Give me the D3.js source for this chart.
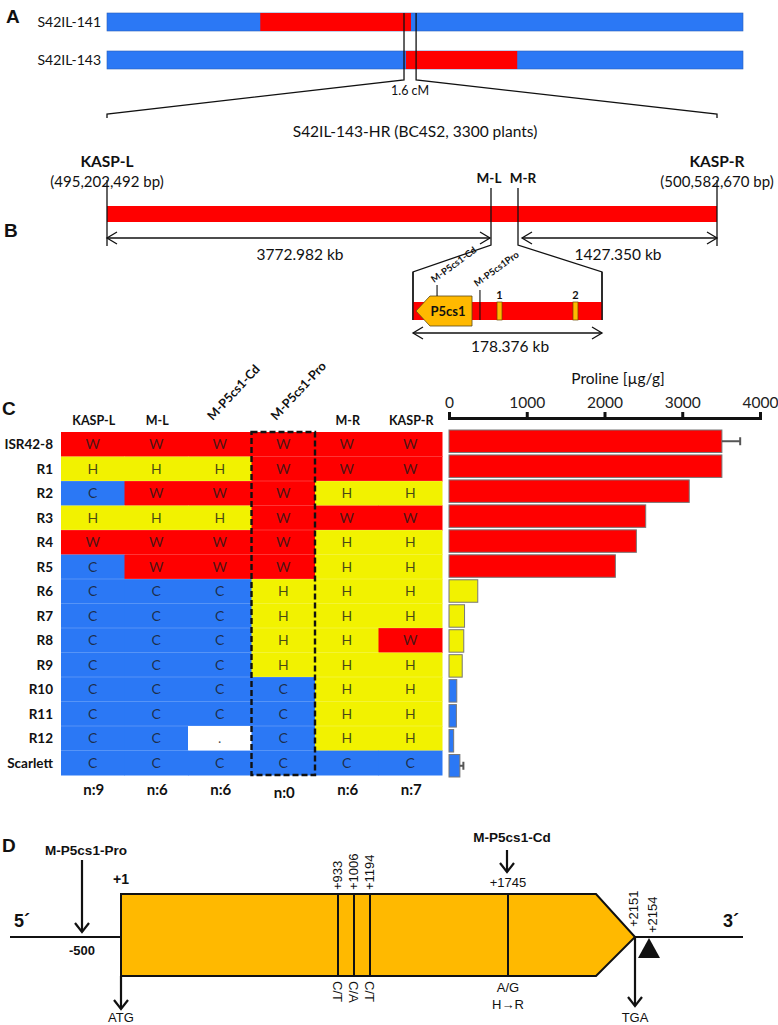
<!DOCTYPE html>
<html><head><meta charset="utf-8">
<script src="https://cdn.jsdelivr.net/npm/d3@7"></script>
<style>body{margin:0;background:#fff} svg{display:block}</style>
</head><body><svg id="c" width="778" height="1025"></svg>
<script>
// ---------------- DATA ----------------
// Panel A
const introLines = ["S42IL-141", "S42IL-143"];
const introStart = [24.1, 47.0];      // % of chromosome segment shown
const introEnd = [47.8, 64.5];
const cmWindow = [46.7, 48.6];
const cmLabel = "1.6 cM";
// Panel B
const popLabel = "S42IL-143-HR (BC4S2, 3300 plants)";
const markersB = ["KASP-L", "M-L", "M-R", "KASP-R"];
const markerBp = [495202492, 498975474, 499155320, 500582670];
const kaspBpLabels = ["(495,202,492 bp)", "(500,582,670 bp)"];
const intervalLabels = ["3772.982 kb", "1427.350 kb"];
const insetKb = 178.376;
const insetLabel = "178.376 kb";
const p5cs1Kb = [2.8, 55.7];
const insetMarkers = ["M-P5cs1-Cd", "M-P5cs1Pro"];
const insetMarkerKb = [22.7, 63.2];
const candNames = ["1", "2"];
const candKb = [[79.3, 84.0], [151.0, 155.7]];
// Panel C
const markersC = ["KASP-L", "M-L", "M-P5cs1-Cd", "M-P5cs1-Pro", "M-R", "KASP-R"];
const plants = ["ISR42-8", "R1", "R2", "R3", "R4", "R5", "R6", "R7", "R8", "R9", "R10", "R11", "R12", "Scarlett"];
const genotypes = ["WWWWWW", "HHHWWW", "CWWWHH", "HHHWWW", "WWWWHH", "CWWWHH",
  "CCCHHH", "CCCHHH", "CCCHHW", "CCCHHH", "CCCCHH", "CCCCHH", "CC.CHH", "CCCCCC"];
const proline = [3510, 3510, 3090, 2530, 2410, 2140, 370, 200, 190, 170, 100, 95, 60, 140];
const prolineErr = [235, 0, 0, 0, 0, 0, 0, 0, 0, 0, 0, 0, 0, 45];
const prolineTicks = [0, 1000, 2000, 3000, 4000];
const nCounts = ["n:9", "n:6", "n:6", "n:0", "n:6", "n:7"];
// Panel D
const snpPos = [933, 1006, 1194, 1745];
const snpAlleles = ["C/T", "C/A", "C/T", "A/G"];
const genePos = { pro: -500, start: 1, stop: 2151, indel: 2154 };

// ---------------- DRAW ----------------
const RED = "#ff0000", BLUE = "#2b78f5", YEL = "#f2f200", ORANGE = "#ffb900";
const CAL = "Lato, 'Open Sans', sans-serif";
const ARI = "'Liberation Sans', Arial, sans-serif";
const svg = d3.select("#c");
const genoColor = { W: RED, H: YEL, C: BLUE, ".": "#ffffff" };

function text(g, x, y, s, o = {}) {
  return g.append("text").attr("x", x).attr("y", y).text(s)
    .attr("font-family", o.ff || CAL).attr("font-size", o.fs || 13)
    .attr("font-weight", o.fw || "normal").attr("text-anchor", o.ta || "middle")
    .attr("fill", o.fill || "#111");
}
function line(g, pts, w = 1.3, c = "#111") {
  return g.append("path").attr("d", d3.line()(pts)).attr("fill", "none")
    .attr("stroke", c).attr("stroke-width", w);
}
function dblArrow(g, x1, x2, y) {
  line(g, [[x1, y], [x2, y]], 1.3);
  line(g, [[x1 + 10, y - 6], [x1, y], [x1 + 10, y + 6]], 1.3);
  line(g, [[x2 - 10, y - 6], [x2, y], [x2 - 10, y + 6]], 1.3);
}
function downArrow(g, x, y1, y2) {
  line(g, [[x, y1], [x, y2]], 2.2);
  line(g, [[x - 7, y2 - 9], [x, y2], [x + 7, y2 - 9]], 2.2);
}

// Panel labels
[["A", 6, 23], ["B", 4, 237], ["C", 2, 415], ["D", 2, 852]].forEach(([t, x, y]) =>
  text(svg, x, y, t, { ff: ARI, fs: 19, fw: "bold", ta: "start" }));

// ---- Panel A
const gA = svg.append("g");
const xA = d3.scaleLinear().domain([0, 100]).range([107, 743]);
const yA = d3.scalePoint().domain(introLines).range([22, 60]);
introLines.forEach((n, i) => {
  const y = yA(n);
  gA.append("rect").attr("x", xA(0)).attr("y", y - 9).attr("width", xA(100) - xA(0)).attr("height", 18)
    .attr("fill", BLUE).attr("stroke", "#2a5fb8").attr("stroke-width", 0.6);
  gA.append("rect").attr("x", xA(introStart[i])).attr("y", y - 9)
    .attr("width", xA(introEnd[i]) - xA(introStart[i])).attr("height", 18).attr("fill", RED);
  text(gA, 101, y + 5, n, { ta: "end", fs: 14 });
});
// ---- Panel B scale
const xB = d3.scaleLinear().domain(markerBp).range([107, 491, 518, 717]);
line(gA, [[xA(cmWindow[0]), 13], [xA(cmWindow[0]), 80], [xB(markerBp[0]), 114], [xB(markerBp[0]), 118]], 1.3);
line(gA, [[xA(cmWindow[1]), 13], [xA(cmWindow[1]), 80], [xB(markerBp[3]), 114], [xB(markerBp[3]), 118]], 1.3);
text(gA, (xA(cmWindow[0]) + xA(cmWindow[1])) / 2, 95, cmLabel, { fs: 12.5 });

const gB = svg.append("g");
text(gB, 415, 137, popLabel, { fs: 15.5 });
gB.append("rect").attr("x", xB(markerBp[0])).attr("y", 206).attr("width", xB(markerBp[3]) - xB(markerBp[0]))
  .attr("height", 16).attr("fill", RED);
[0, 3].forEach((k, j) => {
  const x = xB(markerBp[k]);
  text(gB, x, 167, markersB[k], { fs: 15.5, fw: "bold" });
  line(gB, [[x, 180], [x, 246]], 1.3);
  text(gB, x, 187, kaspBpLabels[j], { fs: 15 });
});
[1, 2].forEach(k => {
  const x = xB(markerBp[k]);
  text(gB, x + (k === 1 ? -2 : 5), 183, markersB[k], { fs: 13.5, fw: "bold" });
});
dblArrow(gB, xB(markerBp[0]), xB(markerBp[1]) - 1, 238);
dblArrow(gB, xB(markerBp[2]) + 4, xB(markerBp[3]), 238);
text(gB, 300, 260, intervalLabels[0], { fs: 15.5 });
text(gB, 618, 260, intervalLabels[1], { fs: 15.5 });

// inset
const xI = d3.scaleLinear().domain([0, insetKb]).range([413, 602]);
line(gB, [[xB(markerBp[1]), 188], [xB(markerBp[1]), 245], [xI(0), 272], [xI(0), 320]], 1.3);
line(gB, [[xB(markerBp[2]), 188], [xB(markerBp[2]), 245], [xI(insetKb), 272], [xI(insetKb), 320]], 1.3);
gB.append("rect").attr("x", xI(0)).attr("y", 302).attr("width", xI(insetKb) - xI(0)).attr("height", 18).attr("fill", RED);
line(gB, [[xI(0), 272], [xI(0), 320]], 1.3);
line(gB, [[xI(insetKb), 272], [xI(insetKb), 320]], 1.3);
// candidate marks
candKb.forEach((c, i) => {
  gB.append("rect").attr("x", xI(c[0])).attr("y", 302).attr("width", xI(c[1]) - xI(c[0])).attr("height", 18)
    .attr("fill", ORANGE).attr("stroke", "#6b4a00").attr("stroke-width", 0.7);
  text(gB, (xI(c[0]) + xI(c[1])) / 2, 299, candNames[i], { fs: 11, fw: "bold" });
});
// P5cs1 gene pentagon (left-pointing)
{
  const a = xI(p5cs1Kb[0]), b = xI(p5cs1Kb[1]);
  gB.append("path").attr("d", `M${a},311 L${a + 14},296 L${b},296 L${b},326 L${a + 14},326 Z`)
    .attr("fill", ORANGE).attr("stroke", "#5a4a1a").attr("stroke-width", 0.8);
  text(gB, (a + b) / 2 + 4, 316, "P5cs1", { fs: 13, fw: "bold" });
}
insetMarkers.forEach((m, i) => {
  const x = xI(insetMarkerKb[i]);
  if (i === 0) line(gB, [[x, 285], [x, 296]], 1.1);
  else line(gB, [[x, 290], [x, 320]], 1.1);
  const tx = x - 3, ty = i === 0 ? 283 : 287;
  gB.append("text").attr("transform", `translate(${tx},${ty}) rotate(-36)`).text(m)
    .attr("font-family", CAL).attr("font-size", 9.5).attr("font-weight", "bold").attr("fill", "#111");
});
dblArrow(gB, xI(0), xI(insetKb), 333);
text(gB, 510, 352, insetLabel, { fs: 15.5 });

// ---- Panel C table
const gC = svg.append("g");
const xC = d3.scaleBand().domain(markersC).range([61, 442]);
const yC = d3.scaleBand().domain(plants).range([432, 775]);
plants.forEach((p, r) => {
  markersC.forEach((m, c) => {
    const g = genotypes[r][c];
    gC.append("rect").attr("x", xC(m)).attr("y", yC(p)).attr("width", xC.bandwidth() + 0.5)
      .attr("height", yC.bandwidth() + 0.5).attr("fill", genoColor[g]);
  });
});
// faint row separators
plants.slice(1).forEach(p => line(gC, [[61, yC(p)], [442, yC(p)]], 0.6, "rgba(255,255,255,0.35)"));
plants.forEach((p, r) => {
  markersC.forEach((m, c) => {
    const g = genotypes[r][c];
    text(gC, xC(m) + xC.bandwidth() / 2, yC(p) + yC.bandwidth() / 2 + 5, g,
      { fs: 14, fill: "#1a1a1a" }).attr("fill-opacity", 0.8);
  });
  text(gC, 53, yC(p) + yC.bandwidth() / 2 + 5, p, { fs: 13.5, fw: "bold", ta: "end" });
});
markersC.forEach((m, c) => {
  const cx = xC(m) + xC.bandwidth() / 2;
  if (c === 2 || c === 3) {
    gC.append("text").attr("transform", `translate(${cx - 7},${421}) rotate(-47)`).text(m)
      .attr("font-family", CAL).attr("font-size", 12.5).attr("font-weight", "bold").attr("fill", "#111");
  } else {
    text(gC, cx + 1, 425, m, { fs: 12.5, fw: "bold" });
  }
  text(gC, cx + 1, c === 3 ? 798 : 795, nCounts[c], { fs: 15, fw: "bold" });
});
// dashed box
gC.append("rect").attr("x", xC(markersC[3])).attr("y", 432).attr("width", xC.bandwidth())
  .attr("height", 343).attr("fill", "none").attr("stroke", "#111").attr("stroke-width", 2.4)
  .attr("stroke-dasharray", "6,3");

// proline bars
const xP = d3.scaleLinear().domain([0, 4000]).range([449, 760]);
const yP = d3.scaleBand().domain(plants).range([430, 777]).paddingInner(0.1);
text(gC, 618, 384, "Proline [µg/g]", { fs: 15.5 });
const ax = gC.append("g").attr("transform", "translate(0,418)")
  .call(d3.axisTop(xP).tickValues(prolineTicks).tickFormat(d3.format("d"))
    .tickSize(6).tickSizeOuter(6).tickPadding(4));
ax.select(".domain").attr("stroke-width", 3).attr("stroke", "#111");
ax.selectAll(".tick line").attr("stroke-width", 3).attr("stroke", "#111");
ax.selectAll(".tick text").attr("font-family", CAL).attr("font-size", 15.5).attr("fill", "#222");
plants.forEach((p, i) => {
  const col = genoColor[genotypes[i][3]];
  gC.append("rect").attr("x", xP(0)).attr("y", yP(p)).attr("width", xP(proline[i]) - xP(0))
    .attr("height", yP.bandwidth()).attr("fill", col).attr("stroke", "#777").attr("stroke-width", 1);
  if (prolineErr[i] > 0) {
    const yc = yP(p) + yP.bandwidth() / 2;
    line(gC, [[xP(proline[i]), yc], [xP(proline[i] + prolineErr[i]), yc]], 2, "#555");
    line(gC, [[xP(proline[i] + prolineErr[i]), yc - 4], [xP(proline[i] + prolineErr[i]), yc + 4]], 2, "#555");
  }
});

// ---- Panel D gene model
const gD = svg.append("g");
const xD = d3.scaleLinear().domain([-650, -500, 1, 933, 1006, 1194, 1745, 2151, 2154, 2620])
  .range([10, 82, 121, 338, 354, 370, 508, 635, 649, 743]);
const yMid = 937, yTop = 894, yBot = 976;
line(gD, [[xD(-650), yMid], [xD(genePos.start), yMid]], 2);
line(gD, [[xD(genePos.stop), yMid], [xD(2620), yMid]], 2);
const sx = xD(genePos.start), tx = xD(genePos.stop);
gD.append("path").attr("d", `M${sx},${yTop} H${tx - 39} L${tx},${yMid} L${tx - 39},${yBot} H${sx} Z`)
  .attr("fill", ORANGE).attr("stroke", "#111").attr("stroke-width", 2);
snpPos.forEach((p, i) => {
  line(gD, [[xD(p), yTop], [xD(p), yBot]], 2);
  if (i < 3) {
    gD.append("text").attr("transform", `translate(${xD(p) + 4},${890}) rotate(-90)`).text("+" + p)
      .attr("font-family", ARI).attr("font-size", 13).attr("fill", "#111");
    gD.append("text").attr("transform", `translate(${xD(p) - 5},${981}) rotate(90)`).text(snpAlleles[i])
      .attr("font-family", ARI).attr("font-size", 13).attr("fill", "#111");
  } else {
    text(gD, xD(p), 887, "+" + p, { ff: ARI, fs: 13 });
    text(gD, xD(p), 992, snpAlleles[i], { ff: ARI, fs: 13 });
    text(gD, xD(p), 1009, "H→R", { ff: ARI, fs: 13 });
  }
});
[genePos.stop, genePos.indel].forEach((p, i) => {
  gD.append("text").attr("transform", `translate(${xD(p) + (i === 0 ? 3 : 8)},${i === 0 ? 927 : 933}) rotate(-90)`)
    .text("+" + p).attr("font-family", ARI).attr("font-size", 13).attr("fill", "#111");
});
// triangle at +2154
{
  const x = xD(genePos.indel);
  gD.append("path").attr("d", `M${x},${yMid + 1} L${x + 11},${yMid + 21} L${x - 11},${yMid + 21} Z`).attr("fill", "#111");
}
// arrows
downArrow(gD, xD(genePos.pro), 860, 932);
text(gD, xD(genePos.pro) + 4, 855, "M-P5cs1-Pro", { ff: ARI, fs: 13.5, fw: "bold" });
text(gD, xD(genePos.pro), 955, String(genePos.pro), { ff: ARI, fs: 13, fw: "bold" });
text(gD, xD(genePos.start), 884, "+1", { ff: ARI, fs: 14, fw: "bold" });
downArrow(gD, xD(snpPos[3]) - 1, 850, 872);
text(gD, xD(snpPos[3]) + 4, 842, "M-P5cs1-Cd", { ff: ARI, fs: 13.5, fw: "bold" });
downArrow(gD, xD(genePos.start), yBot, 1009);
text(gD, xD(genePos.start), 1022, "ATG", { ff: ARI, fs: 13 });
downArrow(gD, xD(genePos.stop), yMid, 1006);
text(gD, xD(genePos.stop), 1022, "TGA", { ff: ARI, fs: 13 });
text(gD, 14, 927, "5´", { ff: ARI, fs: 18, fw: "bold", ta: "start" });
text(gD, 723, 927, "3´", { ff: ARI, fs: 18, fw: "bold", ta: "start" });
</script></body></html>
